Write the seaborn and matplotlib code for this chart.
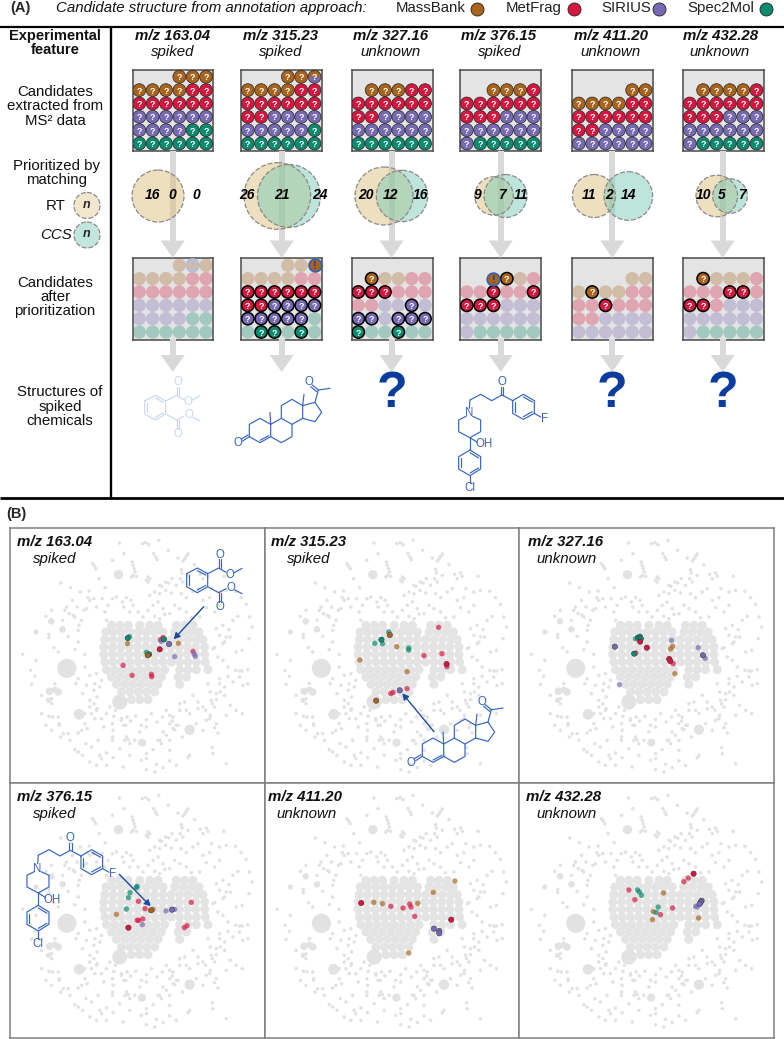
import matplotlib
matplotlib.use("Agg")
import matplotlib.pyplot as plt
from matplotlib.markers import MarkerStyle
from matplotlib.patches import Circle, Polygon, Rectangle
import pandas as pd
import seaborn as sns

sns.set_theme(style="white")
FONT = ["Liberation Sans", "DejaVu Sans"]
plt.rcParams["font.family"] = FONT

# ---------------- data ----------------
METHODS = ["MassBank", "MetFrag", "SIRIUS", "Spec2Mol"]
CODES = {"M": "MassBank", "F": "MetFrag", "S": "SIRIUS", "C": "Spec2Mol"}
PALETTE = {"MassBank": "#A8641D", "MetFrag": "#D5173F", "SIRIUS": "#7769B2", "Spec2Mol": "#0B8A6E"}
features = ["m/z 163.04", "m/z 315.23", "m/z 327.16", "m/z 376.15", "m/z 411.20", "m/z 432.28"]
status = ["spiked", "spiked", "unknown", "spiked", "unknown", "unknown"]

candidates_1 = ["   MMM", "MMMMFF", "FFFFFF", "SSSSSS", "SSSSCC", "CCCCCC"]
candidates_2 = ["   MMX", "MMMMFF", "FFFFFF", "FFSSSS", "SSSSSC", "CCCCCC"]
candidates_3 = ["      ", " MMMFF", "FFFFFF", "FFSSSS", "SSSSSS", "CCCCCC"]
candidates_4 = ["      ", "  MMMF", "FFFFFF", "FFFSSS", "SSSSSS", "SCCCCC"]
candidates_5 = ["      ", "    MM", "MMMMFF", "FFFFFF", "FFSSSS", "SSSSSS"]
candidates_6 = ["      ", " MMMMF", "FFFFFF", "FFFSSS", "SSSSSS", "SCCCCC"]
candidates = [candidates_1, candidates_2, candidates_3, candidates_4, candidates_5, candidates_6]

kept_1 = ["      ", "      ", "      ", "      ", "      ", "      "]
kept_2 = ["      ", "      ", "111111", "111111", "11111 ", " 11 1 "]
kept_3 = ["      ", " 1    ", "111   ", "    1 ", "11 111", "1  1  "]
kept_4 = ["      ", "   1  ", "  1  1", "111   ", "      ", "      "]
kept_5 = ["      ", "      ", " 1    ", "  1   ", "      ", "      "]
kept_6 = ["      ", " 1    ", "   11 ", "11    ", "      ", "      "]
kept = [kept_1, kept_2, kept_3, kept_4, kept_5, kept_6]
true_hit = [(0, 4), (0, 5), None, (1, 2), None, None]

venn_rt_only = ["16", "26", "20", "9", "11", "10"]
venn_both = ["0", "21", "12", "7", "2", "5"]
venn_ccs_only = ["0", "24", "16", "11", "14", "7"]

# embedding background (map units)
grey_x = [339,408,418,427,457,352,486,515,442,448,452,545,540,535,530,377,380,383,386,380,390,375,318,263,258,268,425,420,430,425,
 460,466,478,487,497,525,527,522,530,545,565,582,590,600,605,653,616,640,660,688,705,720,730,738,728,708,690,660,650,625,
 163,192,221,248,244,296,278,287,180,175,168,198,200,212,240,250,262,225,218,215,232,188,205,270,295,300,318,305,330,352,
 360,348,373,395,370,380,410,425,440,455,470,430,445,460,478,495,510,525,540,560,575,590,610,625,640,600,580,555,540,520,
 505,490,475,460,445,630,650,668,680,695,640,655,672,620,635,650,665,688,708,725,135,118,88,127,142,168,185,205,215,235,
 48,88,72,85,127,155,208,228,235,250,270,285,240,262,280,250,272,250,235,262,75,105,135,138,158,127,118,135,155,162,
 265,270,285,300,310,292,318,322,327,345,358,372,388,405,420,435,452,468,490,500,520,535,550,575,598,615,630,625,640,655,
 660,672,690,708,725,700,655,630,610,590,570,548,528,500,490,480,465,455,440,420,400,385,370,355,340,318,300,285,270,255,
 238,228,205,190,170,158,105,135,145,215,275,318,365,407,460,505,550,618,660,620,510,490,450,420,370,350,320,280,250,215,
 185,300,320,360,405,420,445,470,490,545,420,470,515,235,225,242,215,255,265,272,362,352,345,480,490,498,510,560,575,590,
 642,630,618,640,665,680,700,710,520,540,600,612,625,635,605,612]
grey_y = [98,100,97,103,90,130,120,143,130,140,148,131,138,146,152,155,165,175,185,195,198,200,150,167,160,175,200,210,205,215,
 225,228,215,218,205,178,188,205,215,195,163,192,205,188,198,198,235,245,240,243,262,282,320,350,385,420,425,380,400,412,
 218,232,245,242,262,232,205,265,290,300,330,270,315,290,295,270,265,330,345,360,300,310,320,290,305,330,265,285,260,290,
 262,275,270,305,305,285,320,300,285,275,295,255,245,250,240,248,225,250,262,245,235,270,262,305,285,292,320,322,305,295,
 285,310,312,325,318,355,345,358,330,318,375,395,380,415,440,450,470,480,482,478,300,318,365,372,412,355,378,418,395,432,
 432,450,480,498,382,425,520,550,470,495,490,510,525,540,530,570,560,590,610,580,522,555,565,620,640,618,645,660,620,680,
 520,600,625,610,590,650,640,618,600,625,645,632,618,645,628,610,635,620,640,620,600,575,610,595,600,570,550,590,520,530,
 615,585,600,610,520,482,555,640,625,660,640,660,680,655,690,675,700,690,718,730,665,690,700,690,715,690,728,745,765,710,
 700,735,718,690,670,645,610,580,520,505,690,680,688,697,690,658,735,712,760,730,765,720,762,745,735,770,742,735,755,725,
 670,765,660,680,750,778,785,772,752,742,650,665,645,640,660,655,668,610,625,595,620,645,630,600,615,632,645,555,575,590,
 545,568,580,505,498,515,500,525,580,600,630,615,652,668,520,545]
core_x = [315,340,365,400,430,455,510,535,560,
 298,320,345,370,395,420,445,470,505,530,555,578,
 295,320,345,370,395,420,445,470,495,520,545,570,590,
 292,318,343,368,393,418,443,468,493,518,543,568,595,
 292,318,343,368,393,418,443,468,493,518,543,568,595,
 295,320,345,370,395,420,445,470,495,520,545,570,597,
 300,325,350,375,400,425,450,475,520,545,570,605,
 315,340,365,390,415,440,465,515,540,
 330,355,380,405,430,455,520,
 345,370,395,420,445,
 375,400,425]
core_y = [345]*9 + [365]*12 + [388]*13 + [410]*13 + [432]*13 + [455]*13 + [478]*12 + [500]*9 + [522]*7 + [545]*5 + [568]*3
blob_x = [181,336,134,168,88,550,218,407,340,129,155,145,126]
blob_y = [474,193,333,357,365,658,612,697,575,543,545,538,570]
blob_size = [190,45,22,22,14,55,60,35,120,30,30,20,14]

# candidate positions on the map: (x, y, source, strong)
map_1 = [(364,383,"C",1),(369,379,"C",0),(363,400,"M",0),(420,426,"C",0),(428,432,"C",1),(424,435,"M",1),(350,465,"F",0),
 (377,495,"F",0),(435,492,"F",0),(436,499,"F",0),(460,417,"F",1),(462,388,"F",0),(470,382,"F",0),(464,393,"S",0),(473,387,"C",1),
 (488,401,"S",1),(516,399,"M",0),(505,439,"S",0),(560,423,"F",0),(564,431,"S",0),(567,438,"S",0)]
map_2 = [(534,351,"F",0),(384,365,"C",0),(387,374,"M",1),(362,388,"C",1),(342,399,"C",0),(365,400,"C",0),(408,409,"M",0),
 (444,413,"C",0),(444,419,"C",0),(490,436,"F",0),(544,430,"F",0),(558,461,"F",1),(559,469,"F",0),(297,449,"M",0),(439,484,"M",0),
 (439,535,"F",0),(417,540,"S",1),(390,550,"F",0),(397,546,"F",0),(346,571,"M",1)]
map_3 = [(360,385,"C",0),(367,382,"C",1),(373,379,"C",1),(376,385,"C",1),(374,394,"F",1),(394,412,"F",1),(298,409,"S",1),
 (356,430,"C",1),(361,428,"F",0),(312,523,"S",0),(468,390,"S",0),(471,408,"M",0),(465,416,"M",0),(461,446,"F",1),(464,452,"F",1),
 (473,460,"F",0),(478,490,"M",0),(548,412,"S",0),(562,435,"S",1),(569,444,"S",0)]
map_4 = [(392,363,"C",0),(390,367,"C",0),(371,382,"C",0),(366,397,"C",0),(396,408,"F",0),(360,431,"C",0),(416,430,"F",0),
 (330,447,"M",0),(392,465,"F",0),(397,465,"F",0),(409,461,"F",0),(408,478,"S",0),(366,487,"F",1),(434,435,"M",1),(440,432,"M",0),
 (479,437,"S",0),(497,433,"S",1),(505,432,"S",0),(555,411,"F",0),(534,487,"F",0),(542,481,"F",0)]
map_5 = [(301,413,"F",1),(339,411,"M",0),(365,415,"M",0),(390,423,"F",0),(427,428,"F",0),(447,416,"F",0),(451,425,"F",0),
 (471,414,"M",0),(462,453,"F",0),(518,381,"M",0),(583,347,"M",0),(572,463,"F",1),(520,490,"S",1),(536,497,"S",1),(536,504,"S",1),
 (444,563,"M",0)]
map_6 = [(340,374,"F",0),(366,374,"C",0),(372,380,"C",0),(378,390,"C",0),(358,403,"F",0),(444,383,"M",0),(428,425,"C",0),
 (413,439,"M",0),(422,441,"C",0),(435,448,"F",0),(411,463,"M",0),(471,428,"F",0),(505,349,"F",0),(518,338,"F",0),(534,325,"F",1),
 (558,406,"S",1),(555,411,"S",1),(552,416,"S",1),(540,423,"S",0),(545,425,"S",0),(549,458,"M",0)]
maps = [map_1, map_2, map_3, map_4, map_5, map_6]

# ---------------- layout ----------------
W, H = 784, 1039
fig = plt.figure(figsize=(W / 100, H / 100), dpi=100, facecolor="white")
def px_axes(l, t, r, b, z=1):
    return fig.add_axes([l / W, 1 - b / H, (r - l) / W, (b - t) / H], zorder=z)

ov = px_axes(0, 0, W, H, z=5)
ov.set_xlim(0, W); ov.set_ylim(H, 0); ov.axis("off"); ov.patch.set_alpha(0)

BOX_L = [132.5, 241, 351.5, 460, 572, 683]
ARROW_X = [172.7, 281.7, 391.6, 500.7, 612.3, 722.7]
HDR_X = [173, 281, 391, 498.5, 611, 720.7]
SUB_X = [173, 281, 391, 500, 611, 720]
Q = dict(ha="center", va="center_baseline", color="white", fontweight="bold")

def draw_grid(top, rows, mask=None, hit=None, faded=False):
    ax = px_axes(BOX_L[top[0]], top[1], BOX_L[top[0]] + 81, top[1] + 81, z=2)
    recs = [(c, r, ch) for r, line in enumerate(rows) for c, ch in enumerate(line) if ch != " "]
    df = pd.DataFrame(recs, columns=["col", "row", "code"])
    df["source"] = df["code"].map(lambda k: CODES.get(k, "MassBank"))
    df["on"] = [mask is not None and mask[r][c] == "1" for c, r, _ in recs]
    ax.set_facecolor("#E4E4E4")
    if not faded:
        sns.scatterplot(df, x="col", y="row", hue="source", palette=PALETTE, s=86, ax=ax, legend=False,
                        edgecolor="#222222", linewidth=0.5, zorder=3)
        for c, r, _ in recs:
            ax.text(c, r, "?", fontsize=6.5, zorder=5, **Q)
    else:
        sns.scatterplot(df, x="col", y="row", hue="source", palette=PALETTE, s=92, ax=ax, legend=False,
                        edgecolor="none", alpha=0.3, zorder=3)
        on = df[df["on"]]
        if len(on):
            sns.scatterplot(on, x="col", y="row", hue="source", palette=PALETTE, s=78, ax=ax, legend=False,
                            edgecolor="black", linewidth=1.1, zorder=4)
            for c, r in zip(on["col"], on["row"]):
                ax.text(c, r, "?", fontsize=6.5, zorder=6, **Q)
    half = df[df["code"] == "X"]
    if len(half):
        ax.scatter(half["col"], half["row"], s=70, marker=MarkerStyle("o", fillstyle="bottom"),
                   color=PALETTE["SIRIUS"], edgecolor="none", zorder=4, alpha=0.3 if faded else 1)
    if hit is not None:
        strong = mask is not None and top[0] != 0
        ax.scatter([hit[1]], [hit[0]], s=82, facecolor=PALETTE["MassBank"] if strong else "none",
                   edgecolor="#2F5FBF" if strong else "#A9BFE6", linewidth=1.2, zorder=5)
        ax.text(hit[1], hit[0], "!", fontsize=8, fontweight="bold", ha="center", va="center_baseline",
                color="#1F3F8F" if strong else "#A9BFE6", zorder=6)
    ax.set_xlim(-0.51, 5.56); ax.set_ylim(5.56, -0.51)
    ax.set(xlabel="", ylabel="", xticks=[], yticks=[])
    for s in ax.spines.values():
        s.set_visible(True); s.set_color("#4A4A4A"); s.set_linewidth(1.1)

# structural rules
for y, lw in [(26.6, 1.6), (498.3, 2.0)]:
    ov.plot([0, W], [y, y], color="black", lw=lw, solid_capstyle="butt")
ov.plot([111, 111], [26.6, 498.3], color="black", lw=1.7, solid_capstyle="butt")

# grey flow arrows
GREY = "#D9D9D9"
for x in ARROW_X:
    ov.add_patch(Rectangle((x - 3, 151), 6, 90, color=GREY, lw=0, zorder=1))
    ov.add_patch(Polygon([(x - 12, 240.5), (x + 12, 240.5), (x, 258)], closed=True, color=GREY, lw=0, zorder=1))
    ov.add_patch(Rectangle((x - 3, 339), 6, 17, color=GREY, lw=0, zorder=1))
    ov.add_patch(Polygon([(x - 12, 355), (x + 12, 355), (x, 372)], closed=True, color=GREY, lw=0, zorder=1))

# grids
for i in range(6):
    draw_grid((i, 70), candidates[i])
    draw_grid((i, 258.5), candidates[i], kept[i], true_hit[i], faded=True)

# venns
RT_C, CCS_C = (0.87, 0.76, 0.50, 0.50), (0.47, 0.79, 0.71, 0.48)
RT_GEOM = [(158, 26), (277.3, 33.3), (384, 29), (494, 19.2), (594, 21.5), (716.8, 20.8)]
CCS_GEOM = [None, (289, 31.5), (402, 25.7), (505.5, 21.5), (628.3, 24.3), (730, 17.3)]
VT = [(152.7, 172.7, 196.7), (246.7, 281.7, 320), (365.7, 390.7, 421),
      (478, 501.7, 520.7), (589, 609, 628.7), (704, 722, 741.7)]
def venn(x, y, r, col):
    ov.add_patch(Circle((x, y), r, facecolor=col, edgecolor="none", zorder=2))
    ov.add_patch(Circle((x, y), r, facecolor="none", edgecolor="#8A8A8A", lw=0.9, ls=(0, (4, 1.5)), zorder=3))
for i in range(6):
    venn(RT_GEOM[i][0], 196, RT_GEOM[i][1], RT_C)
    if CCS_GEOM[i]:
        venn(CCS_GEOM[i][0], 196, CCS_GEOM[i][1], CCS_C)
    for x, t in zip(VT[i], (venn_rt_only[i], venn_both[i], venn_ccs_only[i])):
        ov.text(x, 195, t, fontsize=10, fontweight="bold", fontstyle="italic", ha="center", va="center", color="black", zorder=4)
venn(87, 205.5, 13, (0.87, 0.76, 0.50, 0.38))
venn(87, 235, 13, (0.47, 0.79, 0.71, 0.45))
ov.text(87, 205, "n", fontsize=9, fontweight="bold", fontstyle="italic", ha="center", va="center", zorder=4)
ov.text(87, 234, "n", fontsize=9, fontweight="bold", fontstyle="italic", ha="center", va="center", zorder=4)

# text, panel A
TXT = dict(ha="center", va="center", color="#111111")
ov.text(10, 8, "(A)", fontsize=10.5, fontweight="bold", ha="left", va="center")
ov.text(56, 8, "Candidate structure from annotation approach:", fontsize=10.8, fontstyle="italic", ha="left", va="center", color="#111111")
LEG = [(396, 477.5), (506, 574), (601, 659.5), (687, 766)]
for m, (tx, cx) in zip(METHODS, LEG):
    ov.text(tx, 8, m, fontsize=10.8, ha="left", va="center", color="#222222")
    ov.scatter([cx], [9], s=88, color=PALETTE[m], edgecolor="#222222", linewidth=0.6, zorder=3)
ov.text(55, 36, "Experimental", fontsize=10.5, fontweight="bold", **TXT)
ov.text(55, 50.5, "feature", fontsize=10.5, fontweight="bold", **TXT)
for y, t, x in [(92, "Candidates", 55), (106.5, "extracted from", 55), (121, "MS² data", 55), (166, "Prioritized by", 57),
                (180, "matching", 57), (283, "Candidates", 55), (297, "after", 55), (311, "prioritization", 55),
                (392, "Structures of", 60), (407, "spiked", 60), (421, "chemicals", 60)]:
    ov.text(x, y, t, fontsize=10.8, **TXT)
ov.text(66, 206, "RT", fontsize=10.8, ha="right", va="center", color="#111111")
ov.text(72, 235, "CCS", fontsize=10.8, fontstyle="italic", ha="right", va="center", color="#111111")
for i in range(6):
    ov.text(HDR_X[i], 36, features[i], fontsize=10.8, fontweight="bold", fontstyle="italic", **TXT)
    ov.text(SUB_X[i], 52, status[i], fontsize=10.8, fontstyle="italic", **TXT)
for i in (2, 4, 5):
    ov.text(ARROW_X[i], 394, "?", fontsize=36, fontweight="bold", ha="center", va="center", color="#0B3D9E")

# molecules (skeleton in drawing units)
PHTH_S = [[(434,468),(466,451),(497,468),(497,507),(466,525),(434,507),(434,468)], [(441,473),(441,502)], [(466,459),(491,472)], [(466,517),(491,503)],
 [(497,468),(530,451),(552,464)], [(530,451),(530,425)], [(537,451),(537,425)], [(577,465),(600,452)],
 [(497,507),(530,525),(552,513)], [(530,525),(530,553)], [(537,525),(537,553)], [(579,517),(600,528)]]
PHTH_A = [(534,412,"O"),(565,472,"O"),(567,510,"O"),(534,568,"O")]
PROG_S = [[(748,575),(748,538),(780,520),(812,538),(812,575),(780,593),(748,575)], [(780,586),(806,572)],
 [(812,538),(844,520),(876,538),(876,575),(844,593),(812,575)], [(844,520),(844,482),(876,463),(908,482),(908,520),(876,538)],
 [(908,482),(945,472),(965,502),(945,530),(908,520)], [(812,538),(810,502)], [(908,482),(912,448)],
 [(945,472),(955,435),(990,430)], [(955,435),(937,420)], [(950,440),(932,425)], [(748,575),(728,588)], [(744,570),(724,582)]]
PROG_A = [(714,594,"O"),(928,411,"O")]
HALO_S = [[(240,465),(272,448),(305,467),(336,450),(368,467)], [(333,450),(333,427)], [(340,450),(340,427)],
 [(368,467),(400,448),(433,467),(433,505),(400,523),(368,505),(368,467)], [(375,472),(375,500)], [(400,456),(427,471)], [(400,515),(427,500)],
 [(433,505),(452,516)], [(240,465),(238,490)], [(248,514),(272,525),(272,560),(240,578),(206,560),(206,525),(228,514)],
 [(240,578),(262,592)], [(240,578),(240,615)], [(240,615),(272,635),(272,672),(240,692),(206,672),(206,635),(240,615)],
 [(213,640),(213,667)], [(240,623),(266,639)], [(240,684),(266,669)], [(240,692),(240,715)]]
HALO_A = [(336,412,"O"),(238,505,"N"),(463,522,"F"),(282,598,"OH"),(240,730,"Cl")]
def mol(segs, atoms, ox, oy, color):
    for s in segs:
        ov.plot([ox + p[0] / 3 for p in s], [oy + p[1] / 3 for p in s], color=color, lw=0.85, zorder=6, solid_capstyle="round")
    for x, y, t in atoms:
        ov.text(ox + x / 3, oy + y / 3, t, fontsize=8.3, color=color, ha="center", va="center", zorder=7)
BLUE = "#3565C2"
mol(PHTH_S, PHTH_A, 0, 245, "#CBD7EF")
mol(PROG_S, PROG_A, 0, 245, BLUE)
mol(HALO_S, HALO_A, 390, 245, BLUE)
mol(PHTH_S, PHTH_A, 42, 417.7, BLUE)
mol(PROG_S, PROG_A, 173, 564.7, BLUE)
mol(HALO_S, HALO_A, -41.7, 700.3, BLUE)
for a, b in [((203.7, 606.7), (173.7, 639.3)), ((434, 731.7), (402.3, 693.3)), ((119.3, 874.3), (150.7, 906.3))]:
    ov.annotate("", xy=b, xytext=a, zorder=8,
                arrowprops=dict(arrowstyle="-|>,head_width=0.16,head_length=0.3", color="#1B4BA3", lw=1.0, shrinkA=0, shrinkB=0))

# panel B
ov.text(6, 514, "(B)", fontsize=10.5, fontweight="bold", ha="left", va="center")
PX = [10, 264.5, 518.7]
PW = [254.5, 254.2, 255.3]
PY = [528, 783]
LBL = [(55, 55), (309, 309), (566, 567), (55, 55), (305, 307), (564, 567)]
bg = pd.DataFrame({"x": grey_x, "y": grey_y})
core = pd.DataFrame({"x": core_x, "y": core_y})
blobs = pd.DataFrame({"x": blob_x, "y": blob_y, "size": blob_size})
for i in range(6):
    col, row = i % 3, i // 3
    ax = px_axes(PX[col], PY[row], PX[col] + PW[col], PY[row] + 255, z=1)
    sns.scatterplot(core, x="x", y="y", color="#E4E4E4", s=42, edgecolor="none", ax=ax, legend=False)
    sns.scatterplot(bg, x="x", y="y", color="#E2E2E2", s=6.5, edgecolor="none", ax=ax, legend=False)
    ax.scatter(blobs["x"], blobs["y"], s=blobs["size"], color="#E2E2E2", edgecolor="none")
    m = pd.DataFrame(maps[i], columns=["x", "y", "code", "strong"])
    m["source"] = m["code"].map(CODES)
    sns.scatterplot(m, x="x", y="y", hue="source", palette=PALETTE, s=15, alpha=0.68, edgecolor="none", ax=ax, legend=False, zorder=3)
    st = m[m["strong"] == 1]
    sns.scatterplot(st, x="x", y="y", hue="source", palette=PALETTE, s=15, edgecolor="#333333", linewidth=0.3, ax=ax, legend=False, zorder=4)
    ax.set_xlim(10, 775); ax.set_ylim(818, 53)
    ax.set(xlabel="", ylabel="", xticks=[], yticks=[])
    for s in ax.spines.values():
        s.set_visible(True); s.set_color("#7F7F7F"); s.set_linewidth(1.1)
    y0 = PY[row]
    ov.text(LBL[i][0], y0 + 14, features[i], fontsize=10.8, fontweight="bold", fontstyle="italic", **TXT)
    ov.text(LBL[i][1], y0 + 31, status[i], fontsize=10.8, fontstyle="italic", **TXT)

fig.savefig("out.png", dpi=100)
